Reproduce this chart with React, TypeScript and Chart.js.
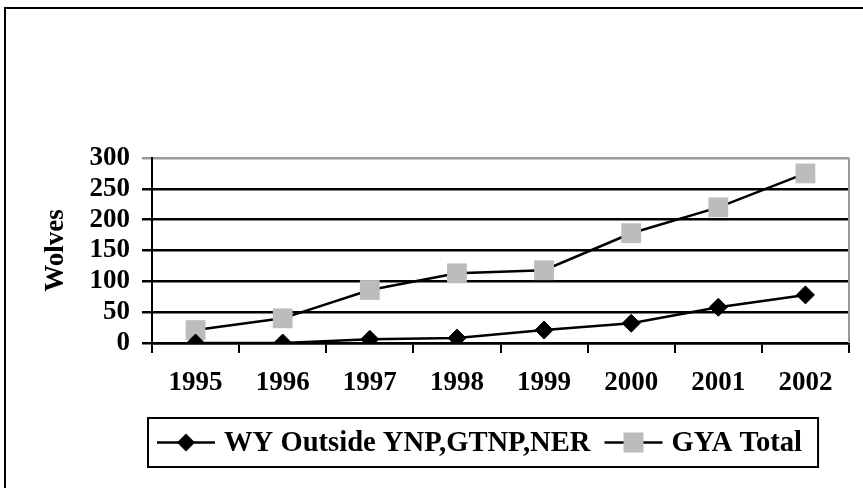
import React, { useEffect, useRef } from "react";
import { Chart, registerables } from "chart.js";

Chart.register(...registerables);

const years = ["1995", "1996", "1997", "1998", "1999", "2000", "2001", "2002"];
const wyOutside = [0, 0, 6, 8, 21, 32, 58, 78];
const gyaTotal = [21, 40, 86, 113, 118, 178, 220, 275];
const yTickValues = [0, 50, 100, 150, 200, 250, 300];
const seriesLabels = ["WY Outside YNP,GTNP,NER", "GYA Total"];
const yTitle = "Wolves";

const SERIF = '"Liberation Serif", "Times New Roman", serif';
const GRAY = "#bcbcbc";

const framePlugin = {
  id: "frameAndLegend",
  afterDraw(chart: any) {
    const ctx = chart.ctx as CanvasRenderingContext2D;
    const a = chart.chartArea;
    ctx.save();
    // outer frame
    ctx.strokeStyle = "#000";
    ctx.lineWidth = 2;
    ctx.beginPath();
    ctx.moveTo(5, 488);
    ctx.lineTo(5, 8);
    ctx.lineTo(863, 8);
    ctx.stroke();
    // right plot border (gray)
    ctx.strokeStyle = "#9a9a9a";
    ctx.lineWidth = 2;
    ctx.beginPath();
    ctx.moveTo(a.right, a.top);
    ctx.lineTo(a.right, a.bottom);
    ctx.stroke();

    // legend
    const ds = chart.data.datasets;
    ctx.font = "bold 28.6px " + SERIF;
    const lineLen = 58;
    const gapLT = 9;
    const gapItems = 14;
    const padL = 9;
    const padR = 16;
    const widths = ds.map((d: any) => ctx.measureText(d.label).width);
    let total = padL + padR;
    widths.forEach((w: number, i: number) => {
      total += lineLen + gapLT + w + (i < widths.length - 1 ? gapItems : 0);
    });
    const bx = 148;
    const by = 418;
    const bh = 49;
    ctx.strokeStyle = "#000";
    ctx.lineWidth = 2;
    ctx.strokeRect(bx, by, total, bh);
    const cy = by + bh / 2;
    let x = bx + padL;
    ds.forEach((d: any, i: number) => {
      ctx.strokeStyle = "#000";
      ctx.lineWidth = 2.5;
      ctx.beginPath();
      ctx.moveTo(x, cy);
      ctx.lineTo(x + lineLen, cy);
      ctx.stroke();
      const mx = x + lineLen / 2;
      ctx.fillStyle = d.pointBackgroundColor;
      ctx.beginPath();
      if (d.pointStyle === "rectRot") {
        const r = 9;
        ctx.moveTo(mx, cy - r);
        ctx.lineTo(mx + r, cy);
        ctx.lineTo(mx, cy + r);
        ctx.lineTo(mx - r, cy);
        ctx.closePath();
      } else {
        const s = 10;
        ctx.rect(mx - s, cy - s, 2 * s, 2 * s);
      }
      ctx.fill();
      x += lineLen + gapLT;
      ctx.fillStyle = "#000";
      ctx.textBaseline = "middle";
      ctx.textAlign = "left";
      ctx.fillText(d.label, x, cy + 1);
      x += widths[i] + gapItems;
    });
    ctx.restore();
  },
};

export default function App() {
  const ref = useRef<HTMLCanvasElement>(null);
  useEffect(() => {
    if (!ref.current) return;
    const chart = new Chart(ref.current, {
      type: "line",
      data: {
        labels: years,
        datasets: [
          {
            label: seriesLabels[0],
            data: wyOutside,
            borderColor: "#000",
            borderWidth: 2.5,
            pointStyle: "rectRot",
            pointRadius: 9,
            pointBackgroundColor: "#000",
            pointBorderColor: "#000",
            pointBorderWidth: 1,
            tension: 0,
          },
          {
            label: seriesLabels[1],
            data: gyaTotal,
            borderColor: "#000",
            borderWidth: 2.5,
            pointStyle: "rect",
            pointRadius: 14,
            pointBackgroundColor: GRAY,
            pointBorderColor: GRAY,
            pointBorderWidth: 0,
            tension: 0,
          },
        ],
      },
      options: {
        responsive: false,
        animation: false,
        events: [],
        layout: { padding: { left: 0, top: 158, right: 5, bottom: 0 } },
        plugins: { legend: { display: false }, tooltip: { enabled: false } },
        scales: {
          x: {
            type: "category",
            offset: true,
            grid: {
              offset: true,
              drawOnChartArea: false,
              drawTicks: true,
              tickLength: 10,
              color: "#000",
              lineWidth: 2,
            },
            border: { display: true, color: "#000", width: 2.5 },
            ticks: {
              color: "#000",
              font: { family: SERIF, size: 27, weight: "bold" },
              padding: 14,
              maxRotation: 0,
              autoSkip: false,
            },
            afterFit(scale: any) {
              scale.height = 145;
            },
          },
          y: {
            min: 0,
            max: 300,
            afterBuildTicks(scale: any) {
              scale.ticks = yTickValues.map((v) => ({ value: v }));
            },
            grid: {
              drawTicks: true,
              tickLength: 10,
              lineWidth: 2.5,
              color: (c: any) => (c.tick && c.tick.value === 300 ? "#9a9a9a" : "#000"),
            },
            border: { display: true, color: "#000", width: 2 },
            ticks: {
              color: "#000",
              font: { family: SERIF, size: 27, weight: "bold" },
              padding: 12,
              autoSkip: false,
            },
            title: {
              display: true,
              text: yTitle,
              color: "#000",
              font: { family: SERIF, size: 27, weight: "bold" },
              padding: { top: 40, bottom: 0 },
            },
            afterFit(scale: any) {
              scale.width = 152;
            },
          },
        },
      },
      plugins: [framePlugin],
    } as any);
    return () => chart.destroy();
  }, []);
  return (
    <div style={{ position: "absolute", left: 0, top: 0, width: 863, height: 488, background: "#fff" }}>
      <canvas ref={ref} width={863} height={488} style={{ display: "block" }} />
    </div>
  );
}
